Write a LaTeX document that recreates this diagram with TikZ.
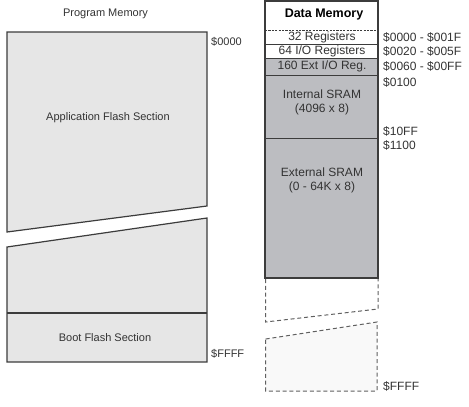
\documentclass[tikz,border=0pt]{standalone}
\usepackage{fontspec}
\setmainfont{Liberation Sans}
\definecolor{txt}{HTML}{333333}
\definecolor{pmfill}{HTML}{E6E6E6}
\definecolor{dmfill}{HTML}{BCBDC1}
\definecolor{edge}{HTML}{3C3C3C}
\definecolor{dashc}{HTML}{606060}
\definecolor{ghost}{HTML}{F9F9F9}
\begin{document}
\begin{tikzpicture}[x=1pt,y=-1pt,
  lbl/.style={font=\fontsize{11}{13}\selectfont, text=txt, inner sep=0pt},
  dlbl/.style={font=\fontsize{12}{14}\selectfont, text=txt, inner sep=0pt, align=center},
  addr/.style={font=\fontsize{12}{14}\selectfont, text=txt, inner sep=0pt, anchor=west},
  paddr/.style={lbl, anchor=west},
  pm/.style={fill=pmfill, draw=edge, line width=1.2pt, line join=miter},
  thinline/.style={draw=edge, line width=0.8pt},
  dashline/.style={draw=dashc, line width=1pt, dash pattern=on 4pt off 2.8pt},
]
\useasboundingbox (0,0) rectangle (469,407);

% ---------- Program memory ----------
\node[lbl] (pmtitle) at (105.5,14) {Program Memory};
\path[pm] (7,32) -- (207,32) -- (207,206) -- (7,232) -- cycle;
\path[pm] (7,247) -- (207,218) -- (207,362) -- (7,362) -- cycle;
\draw[draw=edge, line width=1.2pt] (7,313) -- (207,313);
\node[lbl] (app) at (108,118) {Application Flash Section};
\node[lbl] (boot) at (105,338) {Boot Flash Section};
\node[paddr] (p0) at (211,42) {\$0000};
\node[paddr] (pf) at (211,354) {\$FFFF};

% ---------- Data memory ----------
\fill[white] (265,1) rectangle (378,58);
\fill[dmfill] (265,58) rectangle (378,278);
\draw[thinline] (265,44) -- (378,44);
\draw[thinline] (265,58) -- (378,58);
\draw[thinline] (265,75) -- (378,75);
\draw[thinline] (265,138) -- (378,138);
\draw[draw=edge, line width=1pt, dash pattern=on 2.2pt off 1.2pt] (265,30) -- (378,30);
\draw[draw=edge, line width=1.7pt] (265,1) rectangle (378,278);

\node[font=\bfseries\fontsize{12.5}{14}\selectfont, text=black, inner sep=0pt] (dmtitle) at (324,14) {Data Memory};
\node[dlbl] (r32) at (322,37) {32 Registers};
\node[dlbl] (r64) at (322,51.5) {64 I/O Registers};
\node[dlbl] (r160) at (322,66.5) {160 Ext I/O Reg.};
\node[dlbl] (isram) at (322,102) {Internal SRAM\\(4096 x 8)};
\node[dlbl] (esram) at (322,180.5) {External SRAM\\(0 - 64K x 8)};

\node[addr] (a1) at (383,37) {\$0000 - \$001F};
\node[addr] (a2) at (383,51.5) {\$0020 - \$005F};
\node[addr] (a3) at (383,66.5) {\$0060 - \$00FF};
\node[addr] (a4) at (383,82) {\$0100};
\node[addr] (a5) at (383,131) {\$10FF};
\node[addr] (a6) at (383,145) {\$1100};
\node[addr] (a7) at (383,386) {\$FFFF};

% ---------- dashed continuation ----------
\draw[dashline] (265.7,279) -- (265.7,322) -- (378,309) -- (378,279);
\path[dashline, fill=ghost] (265.7,339) -- (377,322) -- (377,391) -- (265.7,391) -- cycle;
\end{tikzpicture}
\end{document}
